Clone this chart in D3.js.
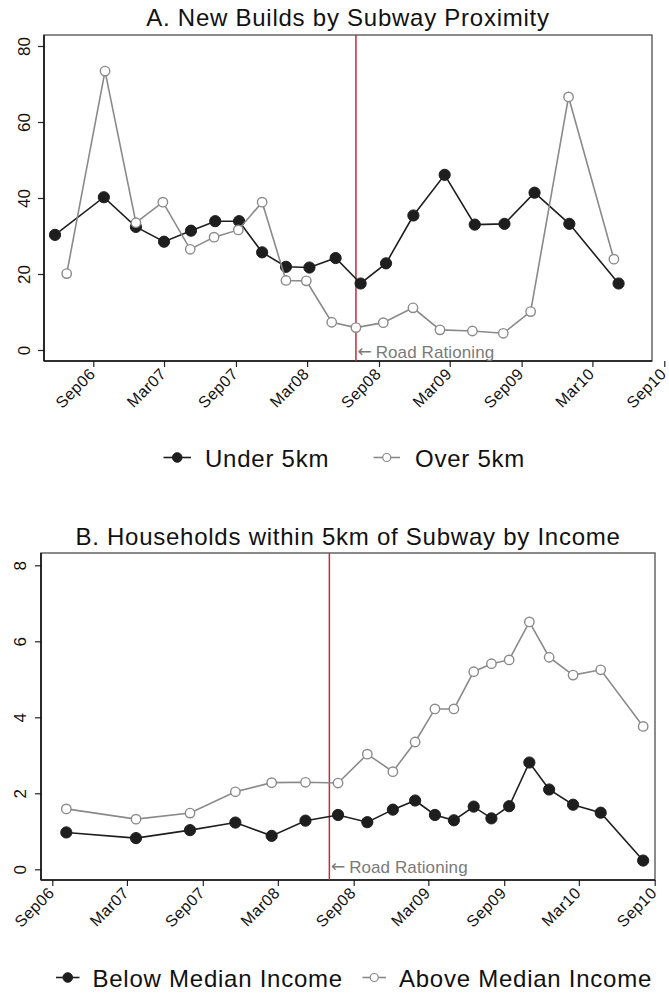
<!DOCTYPE html>
<html>
<head>
<meta charset="utf-8">
<script src="https://cdn.jsdelivr.net/npm/d3@7"></script>
<style>
  html, body { margin: 0; padding: 0; background: #fff; }
  svg { display: block; }
</style>
</head>
<body>
<div id="chart"></div>
<script>
// ---------- DATA ----------
// Panel A: New Builds by Subway Proximity
const datesUnder5 = ["2006-05-26","2006-09-28","2006-12-19","2007-03-01","2007-05-09","2007-07-10","2007-09-09","2007-11-07","2008-01-07","2008-03-07","2008-05-13","2008-07-16","2008-09-19","2008-11-28","2009-02-16","2009-05-04","2009-07-19","2009-10-04","2010-01-01","2010-05-07"];
const valuesUnder5 = [30.3, 40.2, 32.4, 28.5, 31.4, 33.9, 33.9, 25.7, 21.9, 21.7, 24.2, 17.5, 22.8, 35.4, 46.1, 33.0, 33.2, 41.4, 33.2, 17.5];
const datesOver5 = ["2006-06-25","2006-10-01","2006-12-19","2007-02-26","2007-05-07","2007-07-07","2007-09-07","2007-11-07","2008-01-07","2008-02-28","2008-05-03","2008-07-04","2008-09-12","2008-11-27","2009-02-04","2009-04-28","2009-07-16","2009-09-24","2009-12-30","2010-04-25"];
const valuesOver5 = [20.1, 73.4, 33.5, 38.9, 26.5, 29.7, 31.6, 38.9, 18.3, 18.2, 7.3, 5.9, 7.2, 11.1, 5.3, 5.0, 4.4, 10.1, 66.6, 23.9];

// Panel B: Households within 5km of Subway by Income
const datesIncome = ["2006-10-05","2007-03-23","2007-08-01","2007-11-19","2008-02-15","2008-05-07","2008-07-25","2008-10-04","2008-12-05","2009-01-28","2009-03-17","2009-05-02","2009-06-19","2009-08-01","2009-09-13","2009-11-01","2009-12-19","2010-02-15","2010-04-23","2010-08-04"];
const valuesBelowMedian = [0.97, 0.82, 1.03, 1.23, 0.88, 1.28, 1.43, 1.24, 1.57, 1.81, 1.43, 1.29, 1.65, 1.34, 1.66, 2.81, 2.10, 1.70, 1.49, 0.23];
const valuesAboveMedian = [1.59, 1.32, 1.48, 2.04, 2.28, 2.29, 2.27, 3.03, 2.57, 3.35, 4.22, 4.22, 5.20, 5.41, 5.51, 6.51, 5.58, 5.11, 5.25, 3.76];

// Axis ticks
const xTickDates = ["2006-09-01","2007-03-01","2007-09-01","2008-03-01","2008-09-01","2009-03-01","2009-09-01","2010-03-01","2010-09-01"];
const xTickLabels = ["Sep06","Mar07","Sep07","Mar08","Sep08","Mar09","Sep09","Mar10","Sep10"];
const yTicksA = [0, 20, 40, 60, 80];
const yTicksB = [0, 2, 4, 6, 8];
const rationingDate = "2008-07-04";

const titleA = "A. New Builds by Subway Proximity";
const titleB = "B. Households within 5km of Subway by Income";
const legendA = ["Under 5km", "Over 5km"];
const legendB = ["Below Median Income", "Above Median Income"];
const rationingArrow = "\u2190";
const rationingLabel = "Road Rationing";

// ---------- STYLE / LAYOUT ----------
const W = 669, H = 994;
const FONT = "'Liberation Sans', Arial, Helvetica, sans-serif";
const BLACK = "#1e1e1e", GRAY = "#8a8a8a", RED = "#c42a3e";
const parse = d3.timeParse("%Y-%m-%d");

const svg = d3.select("#chart").append("svg")
  .attr("width", W).attr("height", H)
  .style("background", "#fff");

function panel(cfg) {
  const g = svg.append("g");
  const x = d3.scaleTime()
    .domain([parse(xTickDates[0]), parse(xTickDates[xTickDates.length - 1])])
    .range(cfg.xr);
  const y = d3.scaleLinear().domain([cfg.yTicks[0], cfg.yTicks[cfg.yTicks.length - 1]]).range(cfg.yr);
  const f = cfg.frame;

  // title
  g.append("text")
    .attr("x", (f.l + f.r) / 2).attr("y", cfg.titleY)
    .attr("text-anchor", "middle")
    .attr("font-family", FONT).attr("font-size", 24)
    .attr("letter-spacing", "0.75px")
    .attr("fill", "#111")
    .text(cfg.title);

  // frame
  g.append("rect")
    .attr("x", f.l).attr("y", f.t)
    .attr("width", f.r - f.l).attr("height", f.b - f.t)
    .attr("fill", "none").attr("stroke", "#5a5a5a").attr("stroke-width", 1.4);

  // x axis
  const xa = g.append("g").attr("transform", `translate(0,${f.b})`)
    .call(d3.axisBottom(x)
      .tickValues(xTickDates.map(parse))
      .tickFormat((d, i) => xTickLabels[i])
      .tickSize(6).tickSizeOuter(0));
  xa.select(".domain").remove();
  xa.selectAll("line").attr("stroke", "#222").attr("stroke-width", 1.2);
  xa.selectAll("text")
    .attr("font-family", FONT).attr("font-size", 16)
    .attr("letter-spacing", "0.4px")
    .attr("fill", "#111")
    .attr("text-anchor", "end")
    .attr("x", 0).attr("y", 0).attr("dy", null)
    .attr("transform", `translate(2.5,${cfg.xLabOff}) rotate(-45)`);
  g.append("line").attr("x1", f.l).attr("x2", f.r).attr("y1", f.b).attr("y2", f.b)
    .attr("stroke", "#111").attr("stroke-width", 1.6);

  // y axis
  const ya = g.append("g").attr("transform", `translate(${f.l},0)`)
    .call(d3.axisLeft(y).tickValues(cfg.yTicks).tickSize(6).tickSizeOuter(0));
  ya.select(".domain").remove();
  ya.selectAll("line").attr("stroke", "#222").attr("stroke-width", 1.2);
  ya.selectAll("text")
    .attr("font-family", FONT).attr("font-size", 17)
    .attr("fill", "#111")
    .attr("text-anchor", "middle")
    .attr("x", 0).attr("y", 0).attr("dy", "0.36em")
    .attr("transform", `translate(${cfg.yLabX - f.l},0) rotate(-90)`);
  g.append("line").attr("x1", f.l).attr("x2", f.l).attr("y1", f.t).attr("y2", f.b)
    .attr("stroke", "#111").attr("stroke-width", 1.6);

  // road rationing line
  const rx = x(parse(rationingDate));
  g.append("line").attr("x1", rx).attr("x2", rx).attr("y1", f.t).attr("y2", f.b)
    .attr("stroke", RED).attr("stroke-width", 1.5);
  const rt = g.append("text")
    .attr("x", rx + 1.5).attr("y", cfg.rationY)
    .attr("font-family", FONT).attr("font-size", 17)
    .attr("fill", "#7a7a7a");
  rt.append("tspan").attr("font-family", "'DejaVu Sans', sans-serif").attr("font-size", 17).attr("dy", -1).text(rationingArrow);
  rt.append("tspan").attr("dx", 4).attr("dy", 1).attr("letter-spacing", "0.1px").text(rationingLabel);

  // series
  const line = d3.line().x(d => x(d.date)).y(d => y(d.value));
  cfg.series.forEach(s => {
    const data = s.dates.map((d, i) => ({ date: parse(d), value: s.values[i] }));
    g.append("path").datum(data)
      .attr("d", line).attr("fill", "none")
      .attr("stroke", s.color).attr("stroke-width", 1.6);
    g.selectAll(null).data(data).enter().append("circle")
      .attr("cx", d => x(d.date)).attr("cy", d => y(d.value))
      .attr("r", s.filled ? 5.6 : 4.7)
      .attr("fill", s.filled ? s.color : "#fff")
      .attr("stroke", s.color)
      .attr("stroke-width", s.filled ? 1 : 1.4);
  });

  // legend
  cfg.legend.forEach((L, i) => {
    const s = cfg.series[i];
    g.append("line").attr("x1", L.x1).attr("x2", L.x2).attr("y1", L.y).attr("y2", L.y)
      .attr("stroke", s.color).attr("stroke-width", 1.6);
    g.append("circle").attr("cx", (L.x1 + L.x2) / 2).attr("cy", L.y)
      .attr("r", s.filled ? 4.8 : 4)
      .attr("fill", s.filled ? s.color : "#fff")
      .attr("stroke", s.color).attr("stroke-width", s.filled ? 1 : 1.2);
    g.append("text").attr("x", L.tx).attr("y", L.y + 9.5)
      .attr("font-family", FONT).attr("font-size", 24)
      .attr("letter-spacing", "0.75px")
      .attr("fill", "#111")
      .text(L.label);
  });
}

panel({
  title: titleA, titleY: 26,
  frame: { l: 44, t: 35, r: 652, b: 361 },
  xr: [93.3, 664.3], yr: [350, 46],
  yTicks: yTicksA, yLabX: 23.5, xLabOff: 14, rationY: 357.5,
  series: [
    { dates: datesUnder5, values: valuesUnder5, color: BLACK, filled: true },
    { dates: datesOver5, values: valuesOver5, color: GRAY, filled: false }
  ],
  legend: [
    { x1: 163.5, x2: 191, y: 457.5, tx: 205, label: legendA[0] },
    { x1: 373.5, x2: 400, y: 457.5, tx: 415, label: legendA[1] }
  ]
});

panel({
  title: titleB, titleY: 545,
  frame: { l: 41, t: 553, r: 655, b: 880 },
  xr: [52.3, 654.7], yr: [869.3, 565.3],
  yTicks: yTicksB, yLabX: 19.5, xLabOff: 14, rationY: 873,
  series: [
    { dates: datesIncome, values: valuesBelowMedian, color: BLACK, filled: true },
    { dates: datesIncome, values: valuesAboveMedian, color: GRAY, filled: false }
  ],
  legend: [
    { x1: 56, x2: 79.5, y: 977.5, tx: 92.5, label: legendB[0] },
    { x1: 362.5, x2: 386, y: 977.5, tx: 399, label: legendB[1] }
  ]
});
</script>
</body>
</html>
